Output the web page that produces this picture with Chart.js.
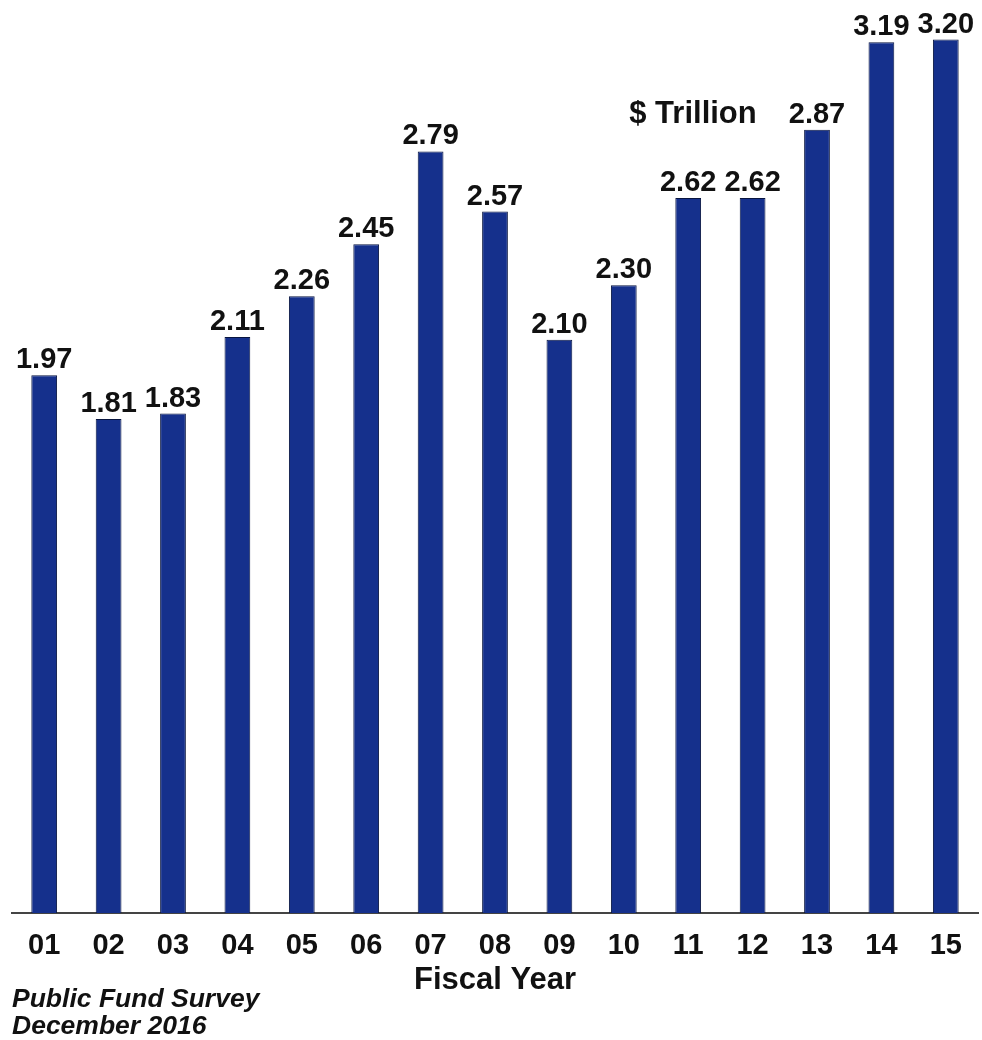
<!DOCTYPE html>
<html>
<head>
<meta charset="utf-8">
<script src="https://cdn.jsdelivr.net/npm/chart.js@4.4.1/dist/chart.umd.min.js"></script>
<style>
  html, body { margin: 0; padding: 0; background: #fff; }
  #wrap { position: relative; width: 982px; height: 1040px; }
</style>
</head>
<body>
<div id="wrap"><canvas id="grafica" width="982" height="1040"></canvas></div>
<script>
// fiscal years and assets, $ trillion
const years = ['01','02','03','04','05','06','07','08','09','10','11','12','13','14','15'];
const assets = [1.97, 1.81, 1.83, 2.11, 2.26, 2.45, 2.79, 2.57, 2.10, 2.30, 2.62, 2.62, 2.87, 3.19, 3.20];
const unitNote = '$ Trillion';
const sourceLines = ['Public Fund Survey', 'December 2016'];

const fontFam = '"Liberation Sans", Arial, sans-serif';

// values above the bars, plus the unit note and source
const textos = {
  id: 'textos',
  afterDatasetsDraw(chart) {
    const ctx = chart.ctx;
    const meta = chart.getDatasetMeta(0);
    ctx.save();
    ctx.fillStyle = '#111';
    ctx.textAlign = 'center';
    ctx.textBaseline = 'alphabetic';
    ctx.font = 'bold 29px ' + fontFam;
    meta.data.forEach((bar, i) => {
      ctx.fillText(assets[i].toFixed(2), bar.x, bar.y - 7);
    });

    ctx.font = 'bold 31px ' + fontFam;
    ctx.fillText(unitNote, 693, 123);

    ctx.textAlign = 'left';
    ctx.font = 'italic bold 26.5px ' + fontFam;
    ctx.fillText(sourceLines[0], 12, 1007);
    ctx.fillText(sourceLines[1], 12, 1034);
    ctx.restore();
  }
};

let micanvas = document.getElementById('grafica').getContext('2d');
var chart = new Chart(micanvas, {
  type: 'bar',
  data: {
    labels: years,
    datasets: [{
      label: unitNote,
      data: assets,
      backgroundColor: '#15308c',
      borderColor: '#081540',
      borderWidth: 1,
      barPercentage: 0.4,
      categoryPercentage: 1
    }]
  },
  options: {
    responsive: false,
    animation: false,
    layout: { padding: { left: 12, right: 4, top: 0, bottom: 0 } },
    plugins: {
      legend: { display: false },
      tooltip: { enabled: false }
    },
    scales: {
      x: {
        grid: { display: false },
        border: { display: true, color: '#444', width: 2 },
        ticks: {
          color: '#111',
          padding: 8,
          font: { family: fontFam, size: 29, weight: 'bold' }
        },
        title: {
          display: true,
          text: 'Fiscal Year',
          color: '#111',
          padding: { top: 0, bottom: 41 },
          font: { family: fontFam, size: 31, weight: 'bold' }
        },
        afterFit(scale) { scale.height = 127; }
      },
      y: {
        display: false,
        min: 0,
        max: 3.345
      }
    }
  },
  plugins: [textos]
});
</script>
</body>
</html>
